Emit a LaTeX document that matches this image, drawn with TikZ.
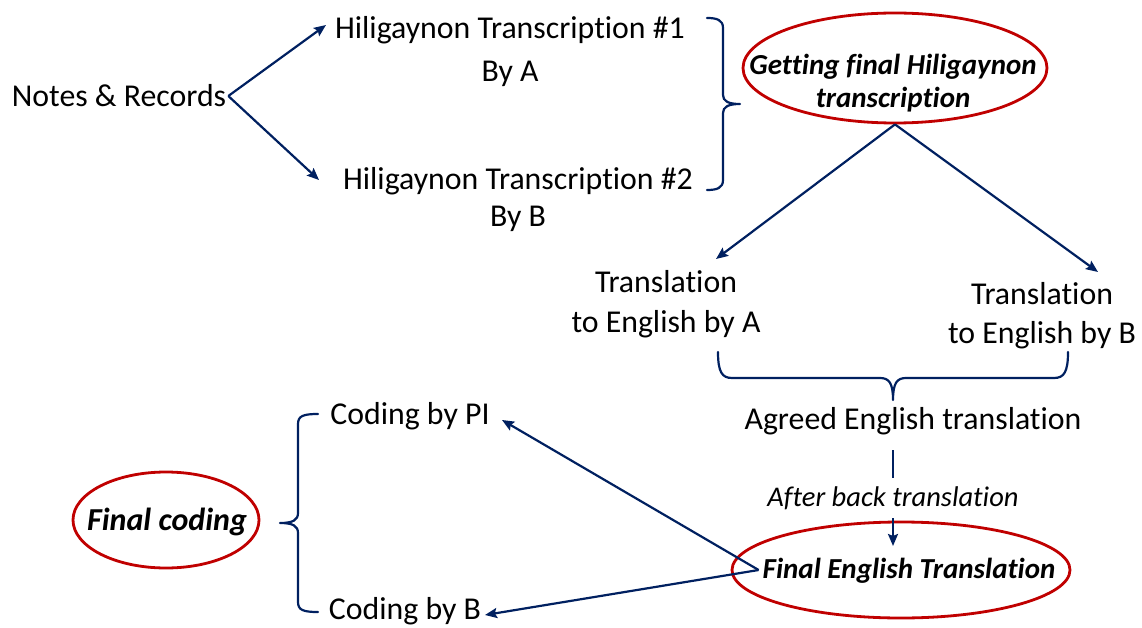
\documentclass[tikz,border=0pt]{standalone}
\usepackage{fontspec}
\setmainfont[Ligatures=NoCommon]{Carlito}
\usetikzlibrary{arrows.meta,shapes.geometric}
\definecolor{navy}{HTML}{002060}
\definecolor{darkred}{HTML}{C00000}
\begin{document}
\begin{tikzpicture}[x=1pt,y=-1pt,
  txt/.style={inner sep=2pt,align=center,font=\fontsize{31.8}{40}\selectfont},
  hl/.style={inner sep=2pt,align=center,font=\fontsize{29}{33}\selectfont\bfseries\itshape},
  oval/.style={ellipse,draw=darkred,line width=2.8pt,inner sep=0pt},
  conn/.style={draw=navy,line width=2.2pt,-{Stealth[length=12pt,width=10pt,inset=2pt]}},
  brace/.style={draw=navy,line width=2.2pt,line cap=round,line join=round}]
\useasboundingbox (0,0) rectangle (1142,628);

% source and the two transcriptions
\node[txt] (notes) at (119,96) {Notes \& Records};
\node[txt,font=\fontsize{31.8}{43}\selectfont] (h1) at (510,52) {Hiligaynon Transcription \#1\\By A};
\node[txt,font=\fontsize{31.8}{37}\selectfont] (h2) at (518,200) {Hiligaynon Transcription \#2\\By B};
\coordinate (h1in) at (326,25);
\coordinate (h2in) at (319,180);
\draw[conn] (notes.east) -- (h1in);
\draw[conn] (notes.east) -- (h2in);

% brace grouping the transcriptions
\draw[brace] (707,18) .. controls (717,18) and (723,20) .. (723,28) -- (723,95)
  .. controls (723,101) and (728,104) .. (740,104)
  .. controls (728,104) and (723,107) .. (723,113) -- (723,180)
  .. controls (723,188) and (717,190) .. (707,190);

% final transcription
\node[oval,minimum width=304,minimum height=110] (getfinal) at (895,68) {};
\node[hl] (getfinaltxt) at (893,83) {Getting final Hiligaynon\\transcription};

% translations
\node[txt] (trA) at (666,304) {Translation\\to English by A};
\node[txt,font=\fontsize{31.8}{39}\selectfont] (trB) at (1042,316) {Translation\\to English by B};
\coordinate (trAin) at (716,259);
\coordinate (trBin) at (1098,272);
\draw[conn] (getfinal.south) -- (trAin);
\draw[conn] (getfinal.south) -- (trBin);

% brace joining the translations
\draw[brace] (718,352) .. controls (718,372) and (722,378) .. (732,378) -- (880,378)
  .. controls (889,378) and (893,383) .. (893,400)
  .. controls (893,383) and (897,378) .. (906,378) -- (1054,378)
  .. controls (1064,378) and (1068,372) .. (1068,352);

\node[txt] (agreed) at (913,421) {Agreed English translation};

% final English translation
\node[oval,minimum width=338,minimum height=96] (finaleng) at (901,570) {};
\node[hl] (finalengtxt) at (909,571) {Final English Translation};
\coordinate (agreedout) at (893,450);
\coordinate (finalengin) at (893,546);
\draw[conn] (agreedout) -- (finalengin)
  node[midway,fill=white,inner xsep=3pt,inner ysep=8pt,font=\fontsize{28.5}{30}\selectfont\itshape] (after) {After back translation};

% coding
\node[txt] (pi) at (410,416) {Coding by PI};
\node[txt] (cb) at (405,611) {Coding by B};
\coordinate (fan) at ([xshift=28pt]finaleng.west);
\coordinate (piin) at (502,420);
\coordinate (cbin) at (485,615);
\draw[conn] (fan) -- (piin);
\draw[conn] (fan) -- (cbin);

% brace grouping the codings
\draw[brace] (318,414) .. controls (303,414) and (298,416) .. (298,424) -- (298,513)
  .. controls (298,520) and (293,523) .. (280,523)
  .. controls (293,523) and (298,526) .. (298,533) -- (298,602)
  .. controls (298,610) and (303,612) .. (318,612);

\node[oval,minimum width=186,minimum height=96] (finalcoding) at (166,520) {};
\node[hl,font=\fontsize{32}{36}\selectfont\bfseries\itshape] (finalcodingtxt) at (167,522) {Final coding};
\end{tikzpicture}
\end{document}
